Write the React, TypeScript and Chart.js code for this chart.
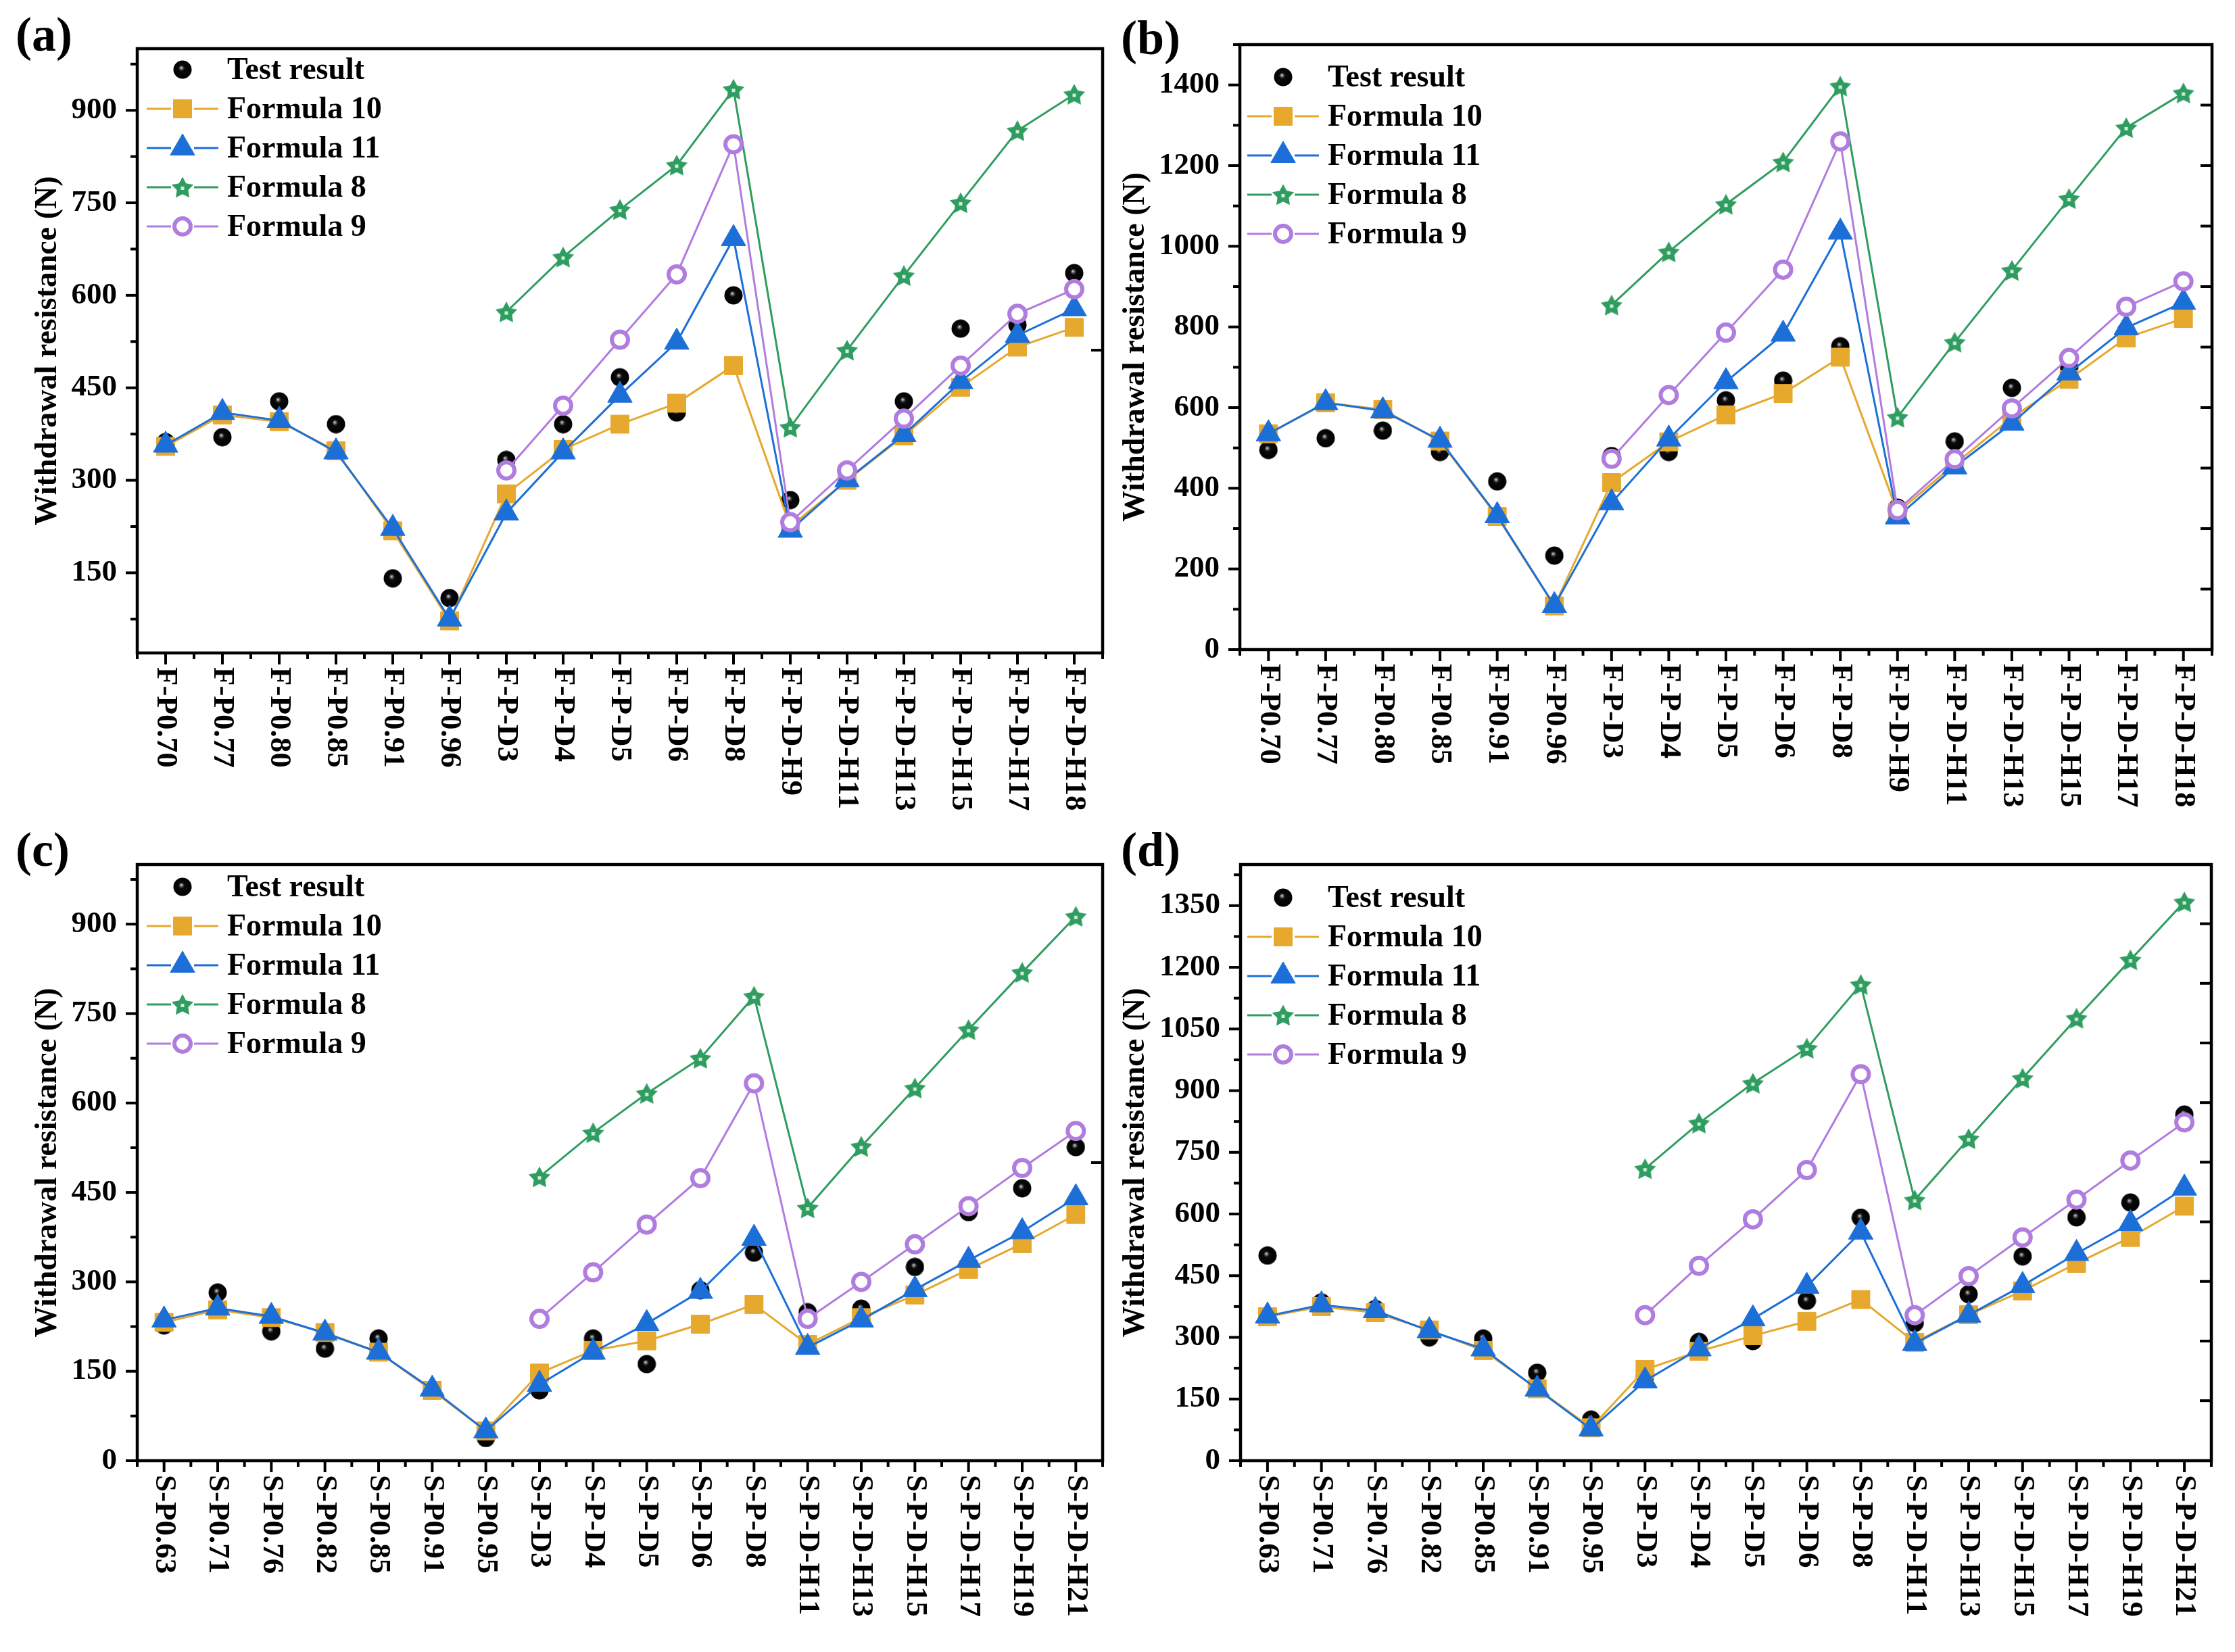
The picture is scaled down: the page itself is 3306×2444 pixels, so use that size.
import React, { useEffect, useRef } from 'react';
import { Chart, registerables } from 'chart.js';
import { drawPoint } from 'chart.js/helpers';

Chart.register(...registerables);

const FONT = '"Liberation Serif", "Times New Roman", Times, serif';
const Y_TITLE = 'Withdrawal resistance (N)';
const seriesNames = ['Test result', 'Formula 10', 'Formula 11', 'Formula 8', 'Formula 9'];

// ---------- categories ----------
const catsF = ['F-P0.70', 'F-P0.77', 'F-P0.80', 'F-P0.85', 'F-P0.91', 'F-P0.96', 'F-P-D3', 'F-P-D4', 'F-P-D5', 'F-P-D6', 'F-P-D8', 'F-P-D-H9', 'F-P-D-H11', 'F-P-D-H13', 'F-P-D-H15', 'F-P-D-H17', 'F-P-D-H18'];
const catsS = ['S-P0.63', 'S-P0.71', 'S-P0.76', 'S-P0.82', 'S-P0.85', 'S-P0.91', 'S-P0.95', 'S-P-D3', 'S-P-D4', 'S-P-D5', 'S-P-D6', 'S-P-D8', 'S-P-D-H11', 'S-P-D-H13', 'S-P-D-H15', 'S-P-D-H17', 'S-P-D-H19', 'S-P-D-H21'];

// ---------- panel (a) ----------
const aTest = [362, 370, 428, 391, 141, 109, 333, 391, 467, 410, 600, 268, 305, 428, 546, 552, 636];
const aF10 = [355, 406, 395, 348, 218, 72, 278, 350, 391, 425, 486, 225, 300, 372, 451, 516, 548];
const aF11 = [357, 410, 397, 346, 222, 75, 247, 346, 438, 524, 692, 219, 301, 374, 460, 535, 578];
const aF8 = [null, null, null, null, null, null, 573, 662, 739, 811, 934, 386, 511, 632, 750, 867, 926];
const aF9 = [null, null, null, null, null, null, 316, 421, 528, 634, 845, 232, 316, 400, 486, 570, 610];
const aYTicks = [150, 300, 450, 600, 750, 900];

// ---------- panel (b) ----------
const bTest = [495, 524, 543, 490, 417, 233, 480, 490, 618, 667, 752, 352, 516, 649, 700, 790, 850];
const bF10 = [535, 612, 595, 517, 330, 108, 414, 515, 582, 635, 725, 340, 460, 575, 670, 773, 821];
const bF11 = [535, 612, 592, 519, 332, 109, 364, 522, 664, 782, 1035, 329, 453, 561, 686, 798, 861];
const bF8 = [null, null, null, null, null, null, 854, 986, 1104, 1209, 1397, 576, 762, 940, 1118, 1294, 1380];
const bF9 = [null, null, null, null, null, null, 473, 631, 786, 942, 1260, 346, 472, 598, 723, 850, 913];
const bYTicks = [0, 200, 400, 600, 800, 1000, 1200, 1400];

// ---------- panel (c) ----------
const cTest = [227, 282, 217, 188, 205, 118, 38, 118, 205, 162, 286, 349, 249, 255, 325, 417, 457, 526];
const cF10 = [232, 253, 240, 215, 182, 118, 50, 147, 185, 201, 229, 262, 195, 240, 278, 321, 364, 413];
const cF11 = [236, 256, 242, 214, 182, 120, 50, 128, 182, 230, 284, 373, 190, 236, 287, 336, 384, 441];
const cF8 = [null, null, null, null, null, null, null, 476, 550, 616, 675, 779, 424, 527, 625, 723, 819, 913];
const cF9 = [null, null, null, null, null, null, null, 238, 316, 396, 474, 633, 238, 300, 363, 427, 491, 553];
const cYTicks = [0, 150, 300, 450, 600, 750, 900];

// ---------- panel (d) ----------
const dTest = [499, 385, 369, 300, 297, 214, 100, 205, 289, 291, 389, 591, 335, 405, 497, 592, 628, 842];
const dF10 = [350, 375, 360, 318, 268, 175, 80, 222, 266, 304, 339, 392, 288, 355, 413, 480, 543, 619];
const dF11 = [352, 379, 365, 316, 272, 174, 77, 194, 272, 345, 424, 556, 285, 354, 426, 504, 577, 663];
const dF8 = [null, null, null, null, null, null, null, 710, 821, 918, 1003, 1158, 634, 783, 930, 1076, 1218, 1359];
const dF9 = [null, null, null, null, null, null, null, 354, 474, 587, 707, 940, 354, 449, 543, 635, 730, 823];
const dYTicks = [0, 150, 300, 450, 600, 750, 900, 1050, 1200, 1350];

const C = { f10: '#E6A82D', f11: '#1D6FD8', f8: '#2F9D60', f9: '#B07CDF' };

type Box = { x: number; y: number; w: number; h: number };
type Plot = { L: number; R: number; T: number; B: number };
type PanelCfg = {
  label: string; labelPos: { x: number; y: number };
  cats: string[]; series: (number | null)[][];
  yMin: number; yMax: number; yTicks: number[]; minorStep: number; rightTicks: number[];
  box: Box; plot: Plot; legend: { dx: number; dy: number }; titlePad: number;
};

const panels: PanelCfg[] = [
  {
    label: '(a)', labelPos: { x: 23, y: 57 }, cats: catsF, series: [aTest, aF10, aF11, aF8, aF9],
    yMin: 20, yMax: 1000, yTicks: aYTicks, minorStep: 75, rightTicks: [511],
    box: { x: 0, y: 0, w: 1653, h: 1222 }, plot: { L: 203, R: 1643, T: 72, B: 966 }, legend: { dx: 67, dy: 31 }, titlePad: 44,
  },
  {
    label: '(b)', labelPos: { x: 1658, y: 62 }, cats: catsF, series: [bTest, bF10, bF11, bF8, bF9],
    yMin: 0, yMax: 1500, yTicks: bYTicks, minorStep: 100, rightTicks: [150, 300, 450, 600, 750, 900, 1050, 1200, 1350],
    box: { x: 1653, y: 0, w: 1653, h: 1222 }, plot: { L: 1834, R: 3272, T: 66, B: 961 }, legend: { dx: 64, dy: 48 }, titlePad: 0,
  },
  {
    label: '(c)', labelPos: { x: 23, y: 1263 }, cats: catsS, series: [cTest, cF10, cF11, cF8, cF9],
    yMin: 0, yMax: 1000, yTicks: cYTicks, minorStep: 75, rightTicks: [500],
    box: { x: 0, y: 1222, w: 1653, h: 1222 }, plot: { L: 203, R: 1640, T: 1267, B: 2161 }, legend: { dx: 67, dy: 33 }, titlePad: 44,
  },
  {
    label: '(d)', labelPos: { x: 1658, y: 1263 }, cats: catsS, series: [dTest, dF10, dF11, dF8, dF9],
    yMin: 0, yMax: 1450, yTicks: dYTicks, minorStep: 75, rightTicks: [146, 291, 436, 581, 726, 871, 1016, 1161, 1306],
    box: { x: 1653, y: 1222, w: 1653, h: 1222 }, plot: { L: 1835, R: 3271, T: 1265, B: 2161 }, legend: { dx: 63, dy: 49 }, titlePad: 0,
  },
];

function makeSphere(d: number): HTMLCanvasElement {
  const c = document.createElement('canvas');
  c.width = d; c.height = d;
  const ctx = c.getContext('2d')!;
  const r = d / 2;
  ctx.beginPath();
  ctx.arc(r, r, r - 0.5, 0, Math.PI * 2);
  const g = ctx.createRadialGradient(r - 2, r - 3, 0, r, r, r);
  g.addColorStop(0, '#f0f0f0');
  g.addColorStop(0.14, '#6a6a6a');
  g.addColorStop(0.32, '#0a0a0a');
  g.addColorStop(1, '#000');
  ctx.fillStyle = g;
  ctx.fill();
  return c;
}

function makeStar(d: number, color: string): HTMLCanvasElement {
  const c = document.createElement('canvas');
  c.width = d; c.height = d;
  const ctx = c.getContext('2d')!;
  const cx = d / 2, cy = d / 2 + 1.5;
  const R = d / 2 - 1, r = R * 0.52;
  ctx.beginPath();
  for (let i = 0; i < 10; i++) {
    const ang = -Math.PI / 2 + (i * Math.PI) / 5;
    const rad = i % 2 === 0 ? R : r;
    const x = cx + Math.cos(ang) * rad, y = cy + Math.sin(ang) * rad;
    if (i === 0) ctx.moveTo(x, y); else ctx.lineTo(x, y);
  }
  ctx.closePath();
  ctx.fillStyle = color;
  ctx.fill();
  ctx.fillStyle = '#cfeedb';
  ctx.fillRect(cx - 2.5, cy - 2.5, 5, 5);
  return c;
}

function buildDatasets(series: (number | null)[][], sphere: HTMLCanvasElement, star: HTMLCanvasElement) {
  const [test, f10, f11, f8, f9] = series;
  const common = { borderWidth: 3, tension: 0, spanGaps: false, clip: false as const };
  return [
    {
      ...common, label: seriesNames[0], data: test, showLine: false, pointStyle: sphere as any, pointRadius: 14,
      borderColor: '#000', backgroundColor: '#000', pointBackgroundColor: '#000', pointBorderColor: '#000', order: 5,
    },
    {
      ...common, label: seriesNames[1], data: f10, borderColor: C.f10, backgroundColor: C.f10, pointBackgroundColor: C.f10,
      pointBorderColor: C.f10, pointStyle: 'rect', pointRadius: 19, pointBorderWidth: 1, order: 4,
    },
    {
      ...common, label: seriesNames[2], data: f11, borderColor: C.f11, backgroundColor: C.f11, pointBackgroundColor: C.f11,
      pointBorderColor: C.f11, pointStyle: 'triangle', pointRadius: 21, pointBorderWidth: 1, order: 3,
    },
    {
      ...common, label: seriesNames[3], data: f8, borderColor: C.f8, backgroundColor: C.f8, pointBackgroundColor: C.f8,
      pointBorderColor: C.f8, pointStyle: star as any, pointRadius: 17, order: 2,
    },
    {
      ...common, label: seriesNames[4], data: f9, borderColor: C.f9, backgroundColor: '#fff', pointBackgroundColor: '#fff',
      pointBorderColor: C.f9, pointStyle: 'circle', pointRadius: 12, pointBorderWidth: 6, order: 1,
    },
  ];
}

function decoPlugin(p: PanelCfg) {
  return {
    id: 'deco',
    afterDraw(chart: any) {
      const ctx: CanvasRenderingContext2D = chart.ctx;
      const { left, right, top, bottom } = chart.chartArea;
      const xs = chart.scales.x;
      const ys = chart.scales.y;
      ctx.save();
      ctx.strokeStyle = '#000';
      ctx.lineCap = 'butt';
      const line = (x1: number, y1: number, x2: number, y2: number, w: number) => {
        ctx.lineWidth = w;
        ctx.beginPath(); ctx.moveTo(x1, y1); ctx.lineTo(x2, y2); ctx.stroke();
      };
      // y major + minor ticks (outward)
      p.yTicks.forEach((v) => {
        const py = ys.getPixelForValue(v);
        line(left - 17, py, left, py, 4);
      });
      const h = p.minorStep;
      for (let v = p.yTicks[0] - h; v <= p.yMax; v += 2 * h) {
        if (v <= p.yMin) continue;
        const py = ys.getPixelForValue(v);
        line(left - 10, py, left, py, 4);
      }
      // right-side inward ticks
      p.rightTicks.forEach((v) => {
        const py = ys.getPixelForValue(v);
        line(right - 17, py, right, py, 4);
      });
      // x ticks
      const n = p.cats.length;
      const step = (right - left) / n;
      for (let i = 0; i < n; i++) {
        const px = xs.getPixelForValue(i);
        line(px, bottom, px, bottom + 17, 4);
      }
      for (let i = 0; i <= n; i++) {
        const px = left + i * step;
        line(px, bottom, px, bottom + 9, 4);
      }
      // frame
      ctx.lineWidth = 4.5;
      ctx.strokeRect(left, top, right - left, bottom - top);
      // x labels (rotated clockwise)
      ctx.fillStyle = '#000';
      ctx.font = `bold 45px ${FONT}`;
      ctx.textAlign = 'left';
      ctx.textBaseline = 'middle';
      p.cats.forEach((lab, i) => {
        const px = xs.getPixelForValue(i);
        ctx.save();
        ctx.translate(px, bottom + 21);
        ctx.rotate(Math.PI / 2);
        ctx.fillText(lab, 0, 0);
        ctx.restore();
      });
      // legend
      const lx = left + p.legend.dx;
      chart.data.datasets.forEach((ds: any, i: number) => {
        const ly = top + p.legend.dy + i * 58;
        if (ds.showLine !== false) {
          ctx.strokeStyle = ds.borderColor;
          line(lx - 53, ly, lx - 17, ly, 3);
          line(lx + 17, ly, lx + 53, ly, 3);
        }
        ctx.fillStyle = ds.pointBackgroundColor;
        ctx.strokeStyle = ds.pointBorderColor;
        ctx.lineWidth = ds.pointBorderWidth ?? 1;
        drawPoint(ctx, { pointStyle: ds.pointStyle, rotation: 0, radius: ds.pointRadius, borderWidth: ds.pointBorderWidth ?? 1 } as any, lx, ly);
        ctx.fillStyle = '#000';
        ctx.font = `bold 46px ${FONT}`;
        ctx.textAlign = 'left';
        ctx.textBaseline = 'middle';
        ctx.fillText(ds.label, lx + 66, ly + 2);
      });
      ctx.restore();
    },
  };
}

function makeConfig(p: PanelCfg): any {
  const sphere = makeSphere(28);
  const star = makeStar(36, C.f8);
  const datasets = buildDatasets(p.series, sphere, star);
  const padTop = p.plot.T - p.box.y;
  const padRight = p.box.x + p.box.w - p.plot.R;
  const yW = p.plot.L - p.box.x;
  const xH = p.box.y + p.box.h - p.plot.B;
  return {
    type: 'line',
    data: { labels: p.cats, datasets },
    options: {
      animation: false,
      responsive: false,
      devicePixelRatio: 1,
      layout: { padding: { top: padTop, right: padRight, left: 0, bottom: 0 } },
      plugins: { legend: { display: false }, tooltip: { enabled: false } },
      scales: {
        x: {
          type: 'category', offset: true,
          grid: { display: false, drawTicks: false }, border: { display: false },
          ticks: { display: false },
          afterFit: (s: any) => { s.height = xH; },
        },
        y: {
          type: 'linear', min: p.yMin, max: p.yMax,
          grid: { display: false, drawTicks: false }, border: { display: false },
          afterBuildTicks: (s: any) => { s.ticks = p.yTicks.map((v) => ({ value: v })); },
          ticks: {
            color: '#000', padding: 30, autoSkip: false,
            font: { family: FONT, size: 45, weight: 'bold' },
            callback: (v: any) => String(v),
          },
          title: {
            display: true, text: Y_TITLE, color: '#000',
            font: { family: FONT, size: 46, weight: 'bold' },
            padding: { top: p.titlePad, bottom: 0 },
          },
          afterFit: (s: any) => { s.width = yW; },
        },
      },
    },
    plugins: [decoPlugin(p)],
  };
}

function Panel({ p }: { p: PanelCfg }) {
  const ref = useRef<HTMLCanvasElement>(null);
  useEffect(() => {
    const chart = new Chart(ref.current!, makeConfig(p));
    return () => chart.destroy();
  }, []);
  return (
    <>
      <canvas
        ref={ref}
        width={p.box.w}
        height={p.box.h}
        style={{ position: 'absolute', left: p.box.x, top: p.box.y, width: p.box.w, height: p.box.h }}
      />
      <div
        style={{
          position: 'absolute', left: p.labelPos.x, top: p.labelPos.y - 42,
          fontFamily: FONT, fontWeight: 'bold', fontSize: 72, lineHeight: '72px', color: '#000', whiteSpace: 'nowrap',
        }}
      >
        {p.label}
      </div>
    </>
  );
}

export default function App() {
  return (
    <div style={{ position: 'absolute', left: 0, top: 0, width: 3306, height: 2444, background: '#fff', overflow: 'hidden' }}>
      {panels.map((p) => (
        <Panel key={p.label} p={p} />
      ))}
    </div>
  );
}
